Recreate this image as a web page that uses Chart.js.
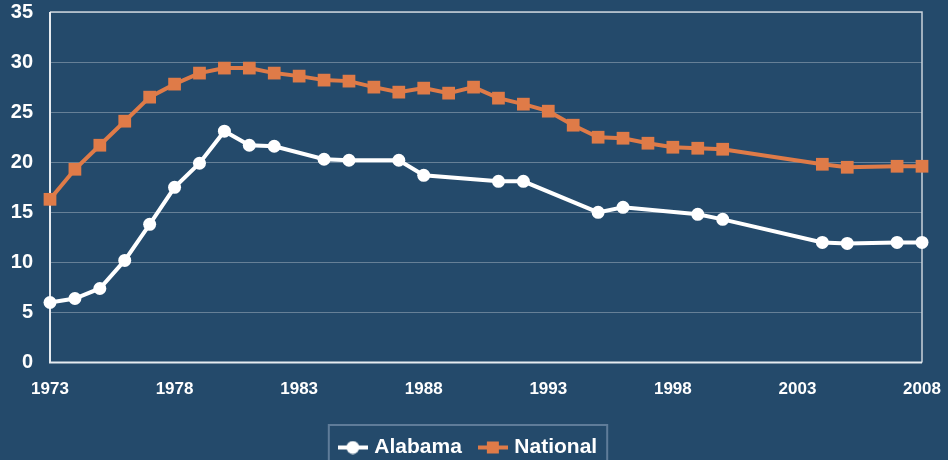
<!DOCTYPE html>
<html>
<head>
<meta charset="utf-8">
<script src="https://cdn.jsdelivr.net/npm/chart.js@4"></script>
<style>
  html, body { margin: 0; padding: 0; background: #244a6b; overflow: hidden; }
  #wrap { width: 948px; height: 460px; }
</style>
</head>
<body>
<div id="wrap"><canvas id="myChart" width="948" height="460"></canvas></div>
<script>
// years on the x axis
const alabamaYears = [1973, 1974, 1975, 1976, 1977, 1978, 1979, 1980, 1981, 1982, 1984, 1985, 1987, 1988, 1991, 1992, 1995, 1996, 1999, 2000, 2004, 2005, 2007, 2008];
const alabamaValues = [6.0, 6.4, 7.4, 10.2, 13.8, 17.5, 19.9, 23.1, 21.7, 21.6, 20.3, 20.2, 20.2, 18.7, 18.1, 18.1, 15.0, 15.5, 14.8, 14.3, 12.0, 11.9, 12.0, 12.0];

const nationalYears = [1973, 1974, 1975, 1976, 1977, 1978, 1979, 1980, 1981, 1982, 1983, 1984, 1985, 1986, 1987, 1988, 1989, 1990, 1991, 1992, 1993, 1994, 1995, 1996, 1997, 1998, 1999, 2000, 2004, 2005, 2007, 2008];
const nationalValues = [16.3, 19.3, 21.7, 24.1, 26.5, 27.8, 28.9, 29.4, 29.4, 28.9, 28.6, 28.2, 28.1, 27.5, 27.0, 27.4, 26.9, 27.5, 26.4, 25.8, 25.1, 23.7, 22.5, 22.4, 21.9, 21.5, 21.4, 21.3, 19.8, 19.5, 19.6, 19.6];

const xTickLabels = [1973, 1978, 1983, 1988, 1993, 1998, 2003, 2008];
const yTickLabels = [0, 5, 10, 15, 20, 25, 30, 35];

const orange = "#df7b48";
const fontFamily = "Liberation Sans, Arial, sans-serif";

function toPoints(xs, ys) {
  return xs.map((x, i) => ({ x: x, y: ys[i] }));
}

// little line + marker picture for the legend
function legendMarker(color, square) {
  const c = document.createElement("canvas");
  c.width = 30;
  c.height = 14;
  const g = c.getContext("2d");
  g.strokeStyle = color;
  g.fillStyle = color;
  g.lineWidth = 4;
  g.beginPath();
  g.moveTo(0, 7);
  g.lineTo(30, 7);
  g.stroke();
  if (square) {
    g.fillRect(9, 1, 12, 12);
  } else {
    g.beginPath();
    g.arc(15, 7, 6.5, 0, Math.PI * 2);
    g.fill();
  }
  return c;
}

// frame around the plot and around the legend
const framePlugin = {
  id: "frame",
  beforeDatasetsDraw(chart) {
    const a = chart.chartArea;
    const ctx = chart.ctx;
    ctx.save();
    ctx.strokeStyle = "#c9d2dc";
    ctx.lineWidth = 1.5;
    ctx.beginPath();
    ctx.moveTo(a.left, a.top);
    ctx.lineTo(a.right, a.top);
    ctx.lineTo(a.right, a.bottom);
    ctx.stroke();
    ctx.strokeStyle = "#e6ebf0";
    ctx.lineWidth = 2;
    ctx.beginPath();
    ctx.moveTo(a.left, a.top);
    ctx.lineTo(a.left, a.bottom);
    ctx.lineTo(a.right, a.bottom);
    ctx.stroke();
    ctx.restore();
  },
  afterDraw(chart) {
    const boxes = chart.legend.legendHitBoxes;
    if (!boxes || !boxes.length) return;
    let l = Infinity, r = -Infinity, t = Infinity;
    boxes.forEach((b) => {
      l = Math.min(l, b.left);
      r = Math.max(r, b.left + b.width);
      t = Math.min(t, b.top);
    });
    const ctx = chart.ctx;
    ctx.save();
    ctx.strokeStyle = "#5f7c99";
    ctx.lineWidth = 2;
    ctx.strokeRect(l - 13, t - 12, r - l + 23, 60);
    ctx.restore();
  },
};

const ctx = document.getElementById("myChart").getContext("2d");
const myChart = new Chart(ctx, {
  type: "line",
  data: {
    datasets: [
      {
        label: "Alabama",
        data: toPoints(alabamaYears, alabamaValues),
        borderColor: "#ffffff",
        backgroundColor: "#ffffff",
        borderWidth: 4,
        pointStyle: "circle",
        pointRadius: 6.5,
        pointHoverRadius: 6.5,
        pointBorderWidth: 0,
        clip: false,
        legendImg: legendMarker("#ffffff", false),
      },
      {
        label: "National",
        data: toPoints(nationalYears, nationalValues),
        borderColor: orange,
        backgroundColor: orange,
        borderWidth: 4,
        pointStyle: "rect",
        pointRadius: 9,
        pointHoverRadius: 9,
        pointBorderWidth: 0,
        clip: false,
        legendImg: legendMarker(orange, true),
      },
    ],
  },
  options: {
    responsive: false,
    animation: false,
    layout: {
      padding: { top: 0, right: 9, left: 0, bottom: -8 },
    },
    plugins: {
      tooltip: { enabled: false },
      legend: {
        position: "bottom",
        labels: {
          color: "#ffffff",
          font: { family: fontFamily, size: 21, weight: "bold" },
          usePointStyle: true,
          pointStyleWidth: 22,
          padding: 20,
          generateLabels(chart) {
            return chart.data.datasets.map((ds, i) => ({
              text: ds.label,
              fontColor: "#ffffff",
              pointStyle: ds.legendImg,
              datasetIndex: i,
              hidden: false,
              lineWidth: 0,
            }));
          },
        },
      },
    },
    scales: {
      x: {
        type: "linear",
        min: 1973,
        max: 2008,
        afterBuildTicks(axis) {
          axis.ticks = xTickLabels.map((v) => ({ value: v }));
        },
        afterFit(axis) {
          axis.paddingLeft = 0;
          axis.paddingRight = 26;
        },
        grid: { display: false, drawTicks: false },
        border: { display: false },
        ticks: {
          color: "#ffffff",
          padding: 17,
          maxRotation: 0,
          autoSkip: false,
          font: { family: fontFamily, size: 17, weight: "bold" },
          callback: (v) => String(v),
        },
      },
      y: {
        min: 0,
        max: 35,
        afterBuildTicks(axis) {
          axis.ticks = yTickLabels.map((v) => ({ value: v }));
        },
        afterFit(axis) {
          axis.width = 50;
          axis.paddingTop = 12;
          axis.paddingBottom = 0;
        },
        grid: { color: "rgba(255,255,255,0.3)", lineWidth: 1, drawTicks: false },
        border: { display: false },
        ticks: {
          color: "#ffffff",
          padding: 17,
          font: { family: fontFamily, size: 20, weight: "bold" },
        },
      },
    },
  },
  plugins: [framePlugin],
});
</script>
</body>
</html>
